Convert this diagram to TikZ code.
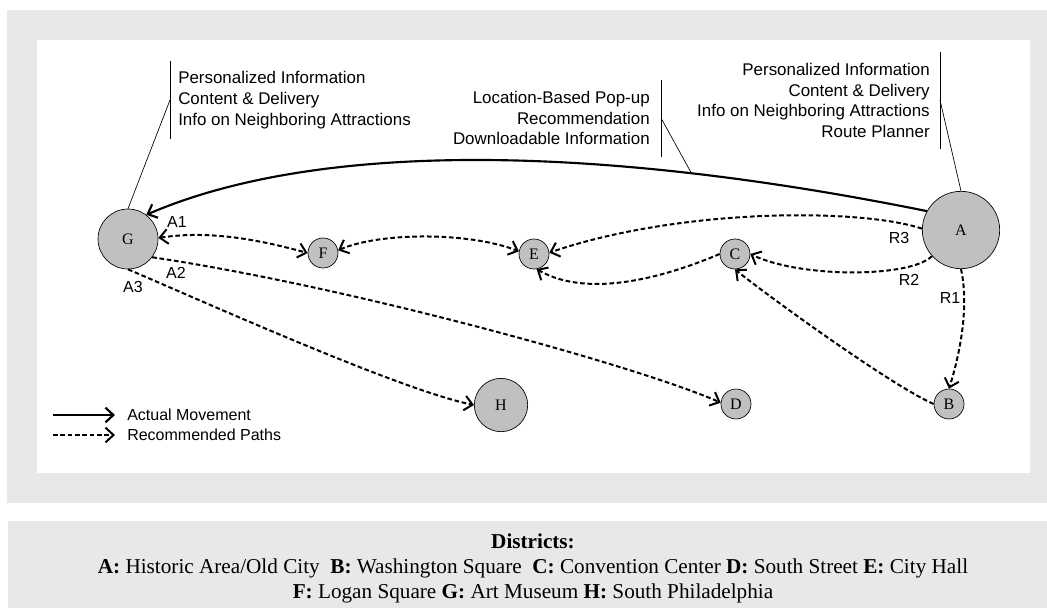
\documentclass[tikz,border=0pt]{standalone}
\usepackage{fontspec}
\setmainfont{Liberation Serif}
\setsansfont{Liberation Sans}
\usetikzlibrary{arrows.meta}
\definecolor{panel}{HTML}{E8E8E8}
\definecolor{nodefill}{HTML}{C0C0C0}
\begin{document}
\begin{tikzpicture}[x=0.75pt,y=-0.75pt,
  district/.style={circle,draw=black,line width=0.5pt,fill=nodefill,inner sep=0pt,
    font=\fontsize{12}{12}\selectfont},
  big/.style={district,minimum size=45pt},
  huge/.style={district,minimum size=58pt},
  mid/.style={district,minimum size=40pt},
  small/.style={district,minimum size=22.5pt},
  move/.style={line width=1.6pt,-{Straight Barb[length=6pt,width=11pt]}},
  rec/.style={line width=1.5pt,dash pattern=on 3.5pt off 2pt,-{Straight Barb[length=6pt,width=11pt]}},
  recboth/.style={line width=1.5pt,dash pattern=on 3.5pt off 2pt,{Straight Barb[length=6pt,width=11pt]}-{Straight Barb[length=6pt,width=11pt]}},
  lbl/.style={font=\sffamily\fontsize{12}{14}\selectfont,inner sep=0pt},
  callout/.style={font=\sffamily\fontsize{12.7}{15.6}\selectfont,inner sep=0pt},
  leader/.style={line width=0.5pt}
]
% background
\fill[white] (0,0) rectangle (1047,608);
\fill[panel] (7,10) rectangle (1047,503);
\fill[white] (37,40) rectangle (1030,473);
\fill[panel] (8,521) rectangle (1047,608);

% districts
\node[big]   (G) at (128,239) {G};
\node[small] (F) at (323,253) {F};
\node[small] (E) at (534,254) {E};
\node[small] (C) at (735,254) {C};
\node[huge]  (A) at (961,230) {A};
\node[small] (B) at (949,404) {B};
\node[small] (D) at (736,404) {D};
\node[mid]   (H) at (501,405) {H};

% actual movement
\draw[move] (A.151) .. controls (600,145) and (320,140) .. coordinate[pos=0.25] (mv) (G.53);

% recommended paths
\draw[recboth] (G.2) .. controls (210,230) and (260,240) .. (F.180);
\draw[recboth] (F.10) .. controls (380,232) and (470,232) .. (E.170);
\draw[rec] (A.178) .. controls (860,208) and (680,208) .. (E.5);
\draw[rec] (A.222) .. controls (910,278) and (800,278) .. (C.0);
\draw[rec] (C.180) .. controls (670,275) and (590,300) .. (E.280);
\draw[rec] (A.south) .. controls (970,310) and (958,360) .. (B.north);
\draw[rec] (B.180) .. controls (890,385) and (760,290) .. (C.south);
\draw[rec] (G.-37) .. controls (352,287) and (640,367) .. (D.175);
\draw[rec] (G.south) .. controls (200,300) and (400,390) .. (H.180);

% path labels
\node[lbl] (lA1) at (177,222) {A1};
\node[lbl] (lA2) at (176,273) {A2};
\node[lbl] (lA3) at (133,287) {A3};
\node[lbl] (lR1) at (950,298) {R1};
\node[lbl] (lR2) at (909,280) {R2};
\node[lbl] (lR3) at (899,238) {R3};

% callouts
\node[callout,anchor=west,align=left] (cG) at (178,100)
  {Personalized Information\\Content \& Delivery\\Info on Neighboring Attractions};
\draw[leader] (170,61) -- (170,139);
\coordinate (kG) at (170,100);
\draw[leader] (kG) -- (G.north);

\node[callout,anchor=east,align=right] (cM) at (650,118)
  {Location-Based Pop-up\\Recommendation\\Downloadable Information};
\draw[leader] (661,80) -- (661,157);
\coordinate (kM) at (661,118);
\draw[leader] (kM) -- (mv);

\node[callout,anchor=east,align=right] (cA) at (930,100.5)
  {Personalized Information\\Content \& Delivery\\Info on Neighboring Attractions\\Route Planner};
\draw[leader] (940,52) -- (940,149);
\coordinate (kA) at (940,100);
\draw[leader] (kA) -- (A.north);

% legend
\coordinate (l1s) at (53,415);
\coordinate (l1e) at (115,415);
\coordinate (l2s) at (53,435);
\coordinate (l2e) at (115,435);
\draw[move] (l1s) -- (l1e);
\draw[rec] (l2s) -- (l2e);
\node[lbl,anchor=west] (t1) at (127,415) {Actual Movement};
\node[lbl,anchor=west] (t2) at (127,435) {Recommended Paths};

% district key
\node[align=center,font=\fontsize{15.9}{18.75}\selectfont,inner sep=0pt] (key) at (533,568.5)
  {\textbf{Districts:}\\
   \textbf{A:} Historic Area/Old City\ \ \textbf{B:} Washington Square\ \ \textbf{C:} Convention Center \textbf{D:} South Street \textbf{E:} City Hall\\
   \textbf{F:} Logan Square \textbf{G:} Art Museum \textbf{H:} South Philadelphia};
\end{tikzpicture}
\end{document}
